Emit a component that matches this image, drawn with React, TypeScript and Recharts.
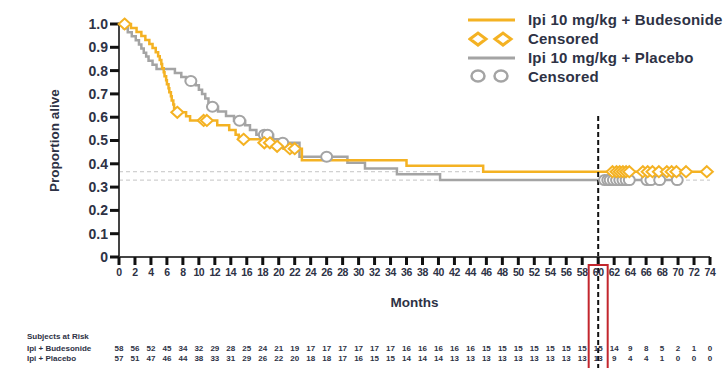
import React from 'react';
import { ComposedChart, Line, Scatter, XAxis, YAxis, ReferenceLine } from 'recharts';

const YELLOW = '#f4b223';
const GRAY = '#a4a4a4';
const INK = '#2e3245';
const FONT = '"Liberation Sans", Arial, sans-serif';

// month ticks on the x axis
const months = [0, 2, 4, 6, 8, 10, 12, 14, 16, 18, 20, 22, 24, 26, 28, 30, 32, 34, 36, 38, 40, 42, 44, 46, 48, 50, 52, 54, 56, 58, 60, 62, 64, 66, 68, 70, 72, 74];
const yTicks = [0, 0.1, 0.2, 0.3, 0.4, 0.5, 0.6, 0.7, 0.8, 0.9, 1.0];

// subjects at risk, one value per month tick
const riskBudesonide = [58, 56, 52, 45, 34, 32, 29, 28, 25, 24, 21, 19, 17, 17, 17, 17, 17, 17, 16, 16, 16, 16, 16, 15, 15, 15, 15, 15, 15, 15, 15, 14, 9, 8, 5, 2, 1, 0];
const riskPlacebo = [57, 51, 47, 46, 44, 38, 33, 31, 29, 26, 22, 20, 18, 18, 17, 16, 15, 15, 14, 14, 14, 13, 13, 13, 13, 13, 13, 13, 13, 13, 13, 9, 4, 4, 1, 0, 0, 0];

// Kaplan-Meier steps (t = month, s = proportion alive)
const budesonideCurve = [
  { t: 0, s: 1 }, { t: 1.5, s: 0.983 }, { t: 2.2, s: 0.966 }, { t: 2.8, s: 0.948 }, { t: 3.3, s: 0.931 },
  { t: 3.8, s: 0.914 }, { t: 4.2, s: 0.897 }, { t: 4.6, s: 0.879 }, { t: 4.9, s: 0.862 }, { t: 5.1, s: 0.845 },
  { t: 5.3, s: 0.828 }, { t: 5.4, s: 0.81 }, { t: 5.6, s: 0.793 }, { t: 5.7, s: 0.776 }, { t: 5.9, s: 0.759 },
  { t: 6.0, s: 0.741 }, { t: 6.2, s: 0.724 }, { t: 6.3, s: 0.707 }, { t: 6.5, s: 0.69 }, { t: 6.6, s: 0.672 },
  { t: 6.8, s: 0.655 }, { t: 6.9, s: 0.638 }, { t: 7.1, s: 0.621 }, { t: 8.4, s: 0.604 }, { t: 8.9, s: 0.586 },
  { t: 12.3, s: 0.565 }, { t: 13.8, s: 0.545 }, { t: 14.6, s: 0.525 }, { t: 15.0, s: 0.505 }, { t: 17.8, s: 0.49 },
  { t: 19.4, s: 0.475 }, { t: 20.6, s: 0.465 }, { t: 22.9, s: 0.415 }, { t: 36.0, s: 0.392 }, { t: 45.6, s: 0.366 },
  { t: 73.6, s: 0.366 },
];
const placeboCurve = [
  { t: 0, s: 1 }, { t: 0.6, s: 0.982 }, { t: 1.1, s: 0.965 }, { t: 1.6, s: 0.947 }, { t: 2.1, s: 0.93 },
  { t: 2.5, s: 0.912 }, { t: 2.8, s: 0.895 }, { t: 3.1, s: 0.877 }, { t: 3.4, s: 0.86 }, { t: 3.7, s: 0.842 },
  { t: 4.2, s: 0.825 }, { t: 4.7, s: 0.807 }, { t: 7.0, s: 0.79 }, { t: 7.8, s: 0.772 }, { t: 8.4, s: 0.755 },
  { t: 9.6, s: 0.737 }, { t: 10.0, s: 0.718 }, { t: 10.4, s: 0.70 }, { t: 10.8, s: 0.68 }, { t: 11.2, s: 0.66 },
  { t: 11.4, s: 0.645 }, { t: 12.4, s: 0.625 }, { t: 13.4, s: 0.605 }, { t: 14.4, s: 0.585 }, { t: 15.8, s: 0.565 },
  { t: 16.4, s: 0.545 }, { t: 17.2, s: 0.525 }, { t: 19.3, s: 0.505 }, { t: 20.0, s: 0.49 }, { t: 22.6, s: 0.43 },
  { t: 28.6, s: 0.405 }, { t: 30.8, s: 0.38 }, { t: 34.8, s: 0.355 }, { t: 40.2, s: 0.33 }, { t: 69.9, s: 0.33 },
];

// censored observations
const budesonideCensored = [
  { t: 0.7, s: 1 }, { t: 7.3, s: 0.621 }, { t: 10.6, s: 0.586 }, { t: 11.0, s: 0.586 }, { t: 15.6, s: 0.505 },
  { t: 18.2, s: 0.49 }, { t: 18.9, s: 0.49 }, { t: 19.8, s: 0.475 }, { t: 21.4, s: 0.465 }, { t: 22.0, s: 0.465 },
  { t: 61.8, s: 0.366 }, { t: 62.3, s: 0.366 }, { t: 62.7, s: 0.366 }, { t: 63.1, s: 0.366 }, { t: 63.5, s: 0.366 },
  { t: 63.9, s: 0.366 }, { t: 65.6, s: 0.366 }, { t: 66.2, s: 0.366 }, { t: 66.8, s: 0.366 }, { t: 67.6, s: 0.366 },
  { t: 68.6, s: 0.366 }, { t: 69.2, s: 0.366 }, { t: 69.8, s: 0.366 }, { t: 71.0, s: 0.366 }, { t: 73.6, s: 0.366 },
];
const placeboCensored = [
  { t: 9.0, s: 0.755 }, { t: 11.7, s: 0.645 }, { t: 15.1, s: 0.585 }, { t: 18.2, s: 0.525 }, { t: 18.6, s: 0.525 },
  { t: 20.5, s: 0.49 }, { t: 26.0, s: 0.43 },
  { t: 60.8, s: 0.33 }, { t: 61.2, s: 0.33 }, { t: 61.5, s: 0.33 }, { t: 61.9, s: 0.33 }, { t: 62.3, s: 0.33 },
  { t: 62.7, s: 0.33 }, { t: 63.1, s: 0.33 }, { t: 63.5, s: 0.33 }, { t: 63.9, s: 0.33 }, { t: 66.1, s: 0.33 },
  { t: 66.6, s: 0.33 }, { t: 67.7, s: 0.33 }, { t: 69.9, s: 0.33 },
];

const finalBudesonide = 0.366;
const finalPlacebo = 0.33;
const landmarkMonth = 60;

const Diamond = (props: any) => {
  const { cx, cy } = props;
  if (cx == null || cy == null) return null;
  return (
    <path
      d={`M${cx},${cy - 5.5} L${cx + 6},${cy} L${cx},${cy + 5.5} L${cx - 6},${cy} Z`}
      fill="#fff"
      stroke={YELLOW}
      strokeWidth={2}
    />
  );
};

const Ring = (props: any) => {
  const { cx, cy } = props;
  if (cx == null || cy == null) return null;
  return <ellipse cx={cx} cy={cy} rx={5.5} ry={5} fill="#fff" stroke={GRAY} strokeWidth={2} />;
};

const MonthTick = (props: any) => {
  const { x, y, payload } = props;
  return (
    <g>
      <text x={x} y={y + 9} textAnchor="middle" fill={INK} fontFamily={FONT} fontSize={10.5} fontWeight="bold" letterSpacing={-0.4}>
        {payload.value}
      </text>
      {payload.value === landmarkMonth && (
        <rect x={x - 9.5} y={y - 2} width={19} height={120} fill="none" stroke="#c3262d" strokeWidth={2} />
      )}
    </g>
  );
};

const RiskTick = (props: any) => {
  const { x, y, payload } = props;
  const i = months.indexOf(payload.value);
  const style = { fontFamily: FONT, fontSize: 8, fontWeight: 'bold' as const, fill: INK };
  return (
    <g>
      {i === 0 && (
        <>
          <text x={27} y={y + 20} {...style}>Subjects at Risk</text>
          <text x={27} y={y + 32} {...style}>Ipi + Budesonide</text>
          <text x={27} y={y + 42} {...style}>Ipi + Placebo</text>
        </>
      )}
      <text x={x} y={y + 32} textAnchor="middle" {...style}>{riskBudesonide[i]}</text>
      <text x={x} y={y + 42} textAnchor="middle" {...style}>{riskPlacebo[i]}</text>
    </g>
  );
};

const legendText: React.CSSProperties = {
  position: 'absolute', left: 60, fontFamily: FONT, fontSize: 15, fontWeight: 'bold',
  color: INK, letterSpacing: 0.2, lineHeight: '18px', whiteSpace: 'nowrap',
};

function KMLegend() {
  return (
    <div style={{ position: 'absolute', left: 468, top: 11, width: 260, height: 80 }}>
      <svg width={56} height={80} style={{ position: 'absolute', left: 0, top: 0 }}>
        <line x1={0} x2={47} y1={9} y2={9} stroke={YELLOW} strokeWidth={3} />
        <path d="M2,28 L10,22 L18,28 L10,34 Z M27,28 L35,22 L43,28 L35,34 Z" fill="#fff" stroke={YELLOW} strokeWidth={3} />
        <line x1={0} x2={47} y1={47} y2={47} stroke={GRAY} strokeWidth={3} />
        <ellipse cx={10} cy={65} rx={6.5} ry={5.5} fill="#fff" stroke={GRAY} strokeWidth={2.5} />
        <ellipse cx={33} cy={65} rx={6.5} ry={5.5} fill="#fff" stroke={GRAY} strokeWidth={2.5} />
      </svg>
      <div style={{ ...legendText, top: 0 }}>Ipi 10 mg/kg + Budesonide</div>
      <div style={{ ...legendText, top: 19 }}>Censored</div>
      <div style={{ ...legendText, top: 38 }}>Ipi 10 mg/kg + Placebo</div>
      <div style={{ ...legendText, top: 57 }}>Censored</div>
    </div>
  );
}

export default function App() {
  return (
    <div style={{ position: 'absolute', left: 0, top: 0, width: 726, height: 368, background: '#fff' }}>
      <ComposedChart width={726} height={368} margin={{ top: 24, right: 16, left: 0, bottom: 4 }}>
        <XAxis
          dataKey="t"
          type="number"
          domain={[0, 74]}
          ticks={months}
          interval={0}
          tickSize={8}
          height={62}
          axisLine={{ stroke: '#444', strokeWidth: 2 }}
          tickLine={{ stroke: '#111', strokeWidth: 3 }}
          tick={<MonthTick />}
          label={{ value: 'Months', position: 'insideBottom', offset: 12, fill: INK, fontFamily: FONT, fontSize: 13.5, fontWeight: 'bold' }}
        />
        <XAxis
          xAxisId="risk"
          dataKey="t"
          type="number"
          domain={[0, 74]}
          allowDataOverflow
          ticks={months}
          interval={0}
          height={45}
          axisLine={false}
          tickLine={false}
          tickSize={0}
          tickMargin={0}
          tick={<RiskTick />}
        />
        <YAxis
          dataKey="s"
          type="number"
          domain={[0, 1]}
          ticks={yTicks}
          interval={0}
          width={119}
          tickSize={9}
          axisLine={{ stroke: '#444', strokeWidth: 2 }}
          tickLine={{ stroke: '#111', strokeWidth: 3 }}
          tickFormatter={(v: number) => (v === 0 ? '0' : v.toFixed(1))}
          tick={{ fill: INK, fontFamily: FONT, fontSize: 14, fontWeight: 'bold' }}
          label={{ value: 'Proportion alive', angle: -90, position: 'center', dx: -5, fill: INK, fontFamily: FONT, fontSize: 13.5, fontWeight: 'bold' }}
        />
        <ReferenceLine y={finalBudesonide} stroke="#c4c4c4" strokeDasharray="4 3" strokeWidth={1} />
        <ReferenceLine y={finalPlacebo} stroke="#c4c4c4" strokeDasharray="4 3" strokeWidth={1} />
        <Line data={placeboCurve} dataKey="s" type="stepAfter" stroke={GRAY} strokeWidth={2.5} dot={false} isAnimationActive={false} />
        <Line data={budesonideCurve} dataKey="s" type="stepAfter" stroke={YELLOW} strokeWidth={2.5} dot={false} isAnimationActive={false} />
        <Scatter data={placeboCensored} shape={<Ring />} isAnimationActive={false} />
        <Scatter data={budesonideCensored} shape={<Diamond />} isAnimationActive={false} />
        <ReferenceLine
          segment={[{ x: landmarkMonth, y: 0.605 }, { x: landmarkMonth, y: -0.5 }]}
          ifOverflow="visible"
          stroke="#111"
          strokeWidth={2}
          strokeDasharray="5 3"
        />
      </ComposedChart>
      <KMLegend />
    </div>
  );
}
